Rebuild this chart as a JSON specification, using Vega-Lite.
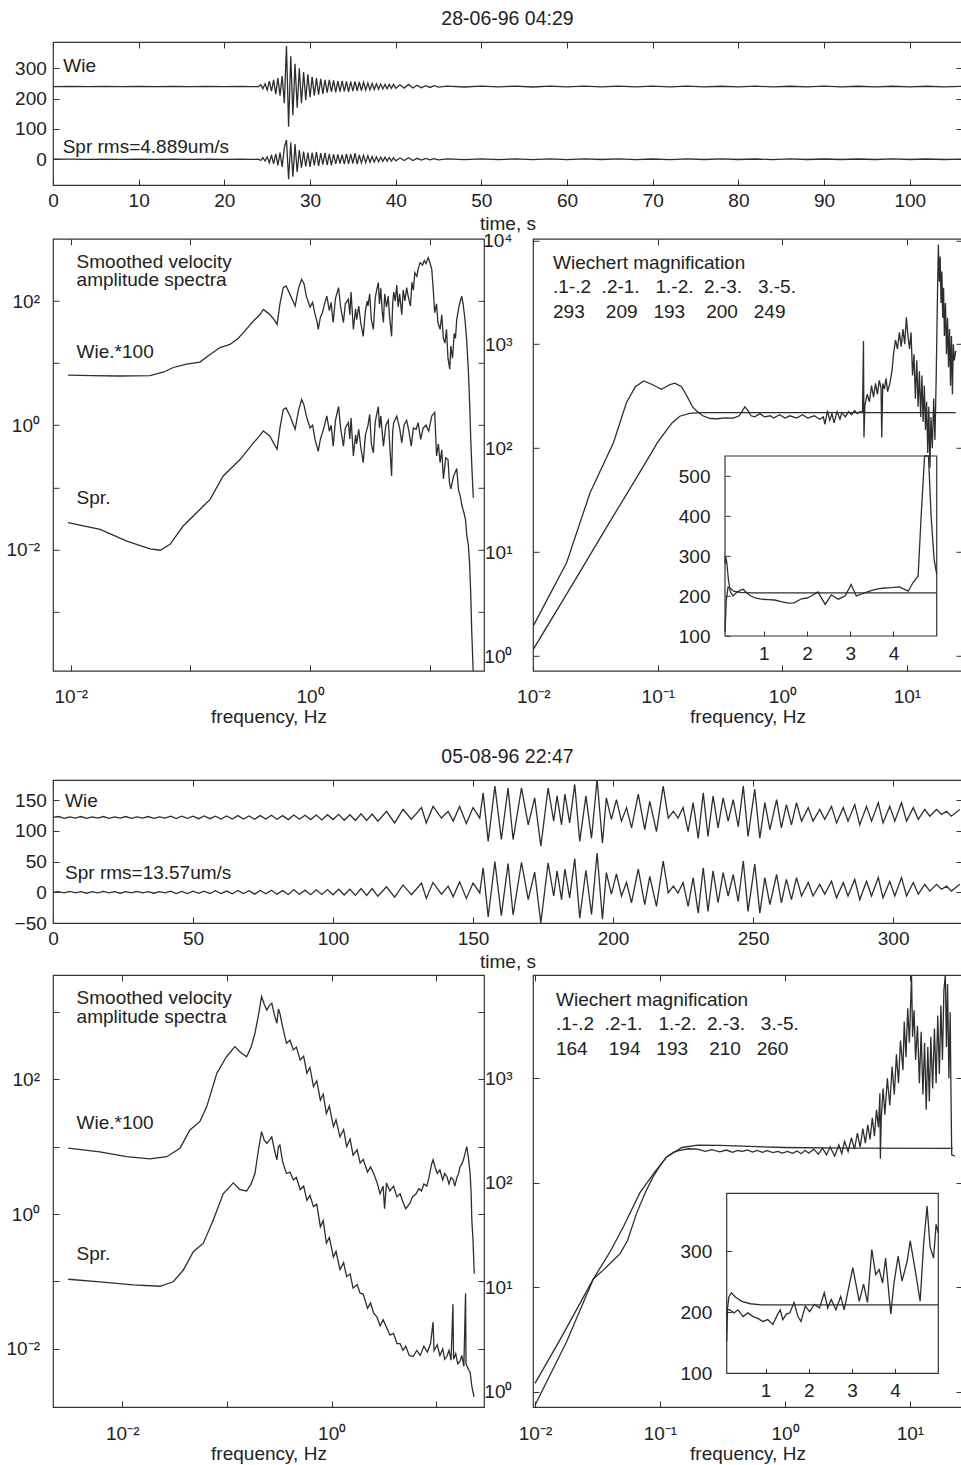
{
"$schema": "https://vega.github.io/schema/vega-lite/v6.json",
"background": "white",
"padding": {"left": 5, "top": 8, "right": 0, "bottom": 4},
"config": {
 "font": "Liberation Sans",
 "view": {"stroke": "#333", "strokeWidth": 1.2},
 "axis": {"labelFont": "Liberation Sans", "labelFontSize": 19, "labelColor": "#222", "tickColor": "#333", "tickWidth": 1, "tickSize": -6, "domain": false, "grid": false, "labelFlush": false, "labelOverlap": false, "titleFont": "Liberation Sans", "titleFontSize": 19, "titleFontWeight": "normal", "titleColor": "#222"},
 "title": {"font": "Liberation Sans", "fontSize": 19.5, "fontWeight": "normal", "color": "#222", "anchor": "middle"},
 "text": {"font": "Liberation Sans", "fontSize": 19, "color": "#222"},
 "line": {"color": "#2e2e2e", "strokeWidth": 1.3}
},
"datasets": {
"ts1": [
{"t":0,"w":240,"s":0},{"t":2,"w":240.6,"s":0.4},{"t":4,"w":239.5,"s":-0.3},{"t":6,"w":240.4,"s":0.3},{"t":8,"w":239.6,"s":-0.4},{"t":10,"w":240.5,"s":0.3},{"t":12,"w":239.4,"s":-0.3},{"t":14,"w":240.6,"s":0.4},{"t":16,"w":239.5,"s":-0.3},{"t":18,"w":240.4,"s":0.3},{"t":20,"w":239.6,"s":-0.4},{"t":22,"w":240.5,"s":0.4},{"t":23,"w":239.5,"s":-0.3},
{"t":24,"w":240,"s":0},{"t":24.25,"w":246,"s":-4},{"t":24.5,"w":233,"s":5},{"t":24.75,"w":249,"s":-6},{"t":25,"w":228,"s":8},{"t":25.25,"w":258,"s":-12},{"t":25.5,"w":225,"s":14},{"t":25.75,"w":262,"s":-15},{"t":26,"w":215,"s":18},{"t":26.25,"w":268,"s":-20},{"t":26.5,"w":210,"s":22},{"t":26.75,"w":275,"s":-25},{"t":27,"w":185,"s":38},{"t":27.25,"w":374,"s":64},{"t":27.5,"w":107,"s":-66},{"t":27.75,"w":340,"s":55},{"t":28,"w":145,"s":-58},{"t":28.25,"w":315,"s":50},{"t":28.5,"w":170,"s":-42},{"t":28.75,"w":300,"s":30},{"t":29,"w":185,"s":-28},{"t":29.25,"w":288,"s":25},{"t":29.5,"w":195,"s":-24},{"t":29.75,"w":280,"s":22},{"t":30,"w":205,"s":-25},{"t":30.25,"w":272,"s":22},{"t":30.5,"w":210,"s":-20},{"t":30.75,"w":268,"s":24},{"t":31,"w":213,"s":-22},{"t":31.25,"w":265,"s":20},{"t":31.5,"w":216,"s":-18},{"t":31.75,"w":262,"s":21},{"t":32,"w":220,"s":-19},{"t":32.25,"w":262,"s":18},{"t":32.5,"w":222,"s":-20},{"t":32.75,"w":260,"s":17},{"t":33,"w":221,"s":-15},{"t":33.25,"w":258,"s":16},{"t":33.5,"w":223,"s":-14},{"t":33.75,"w":259,"s":15},{"t":34,"w":224,"s":-16},{"t":34.25,"w":257,"s":18},{"t":34.5,"w":222,"s":-15},{"t":34.75,"w":256,"s":17},{"t":35,"w":225,"s":-14},{"t":35.25,"w":257,"s":20},{"t":35.5,"w":226,"s":-16},{"t":35.75,"w":255,"s":14},{"t":36,"w":227,"s":-12},{"t":36.25,"w":254,"s":13},{"t":36.5,"w":228,"s":-11},{"t":36.75,"w":252,"s":12},{"t":37,"w":229,"s":-10},{"t":37.25,"w":250,"s":9},{"t":37.5,"w":230,"s":-9},{"t":37.75,"w":249,"s":8},{"t":38,"w":231,"s":-8},{"t":38.25,"w":248,"s":7},{"t":38.5,"w":232,"s":-7},{"t":38.75,"w":247,"s":7},{"t":39,"w":233,"s":-6},{"t":39.25,"w":248,"s":6},{"t":39.5,"w":234,"s":-6},{"t":39.75,"w":247,"s":5},{"t":40,"w":234,"s":-5},{"t":40.5,"w":246,"s":4},{"t":41,"w":235,"s":-4},{"t":41.5,"w":247,"s":5},{"t":42,"w":235,"s":-4},{"t":42.5,"w":244,"s":3},{"t":43,"w":236,"s":-3},{"t":43.5,"w":243,"s":3},{"t":44,"w":237,"s":-2},{"t":44.5,"w":243,"s":2},{"t":45,"w":238,"s":-2},
{"t":46,"w":241.5,"s":1},{"t":48,"w":238.5,"s":-1},{"t":50,"w":241.5,"s":1.2},{"t":52,"w":238.6,"s":-1},{"t":54,"w":241.3,"s":1},{"t":56,"w":238.5,"s":-1.1},{"t":58,"w":241.4,"s":0.9},{"t":60,"w":238.7,"s":-1},{"t":62,"w":241.2,"s":1},{"t":64,"w":238.6,"s":-0.9},{"t":66,"w":241.3,"s":1},{"t":68,"w":238.8,"s":-1},{"t":70,"w":241.1,"s":0.8},{"t":72,"w":238.7,"s":-1},{"t":74,"w":241.2,"s":0.9},{"t":76,"w":238.8,"s":-0.8},{"t":78,"w":241,"s":1},{"t":80,"w":238.9,"s":-0.9},{"t":82,"w":241.2,"s":0.8},{"t":84,"w":238.8,"s":-1},{"t":86,"w":241,"s":0.9},{"t":88,"w":239,"s":-0.8},{"t":90,"w":241.1,"s":0.8},{"t":92,"w":238.9,"s":-0.9},{"t":94,"w":241,"s":0.8},{"t":96,"w":239,"s":-0.8},{"t":98,"w":241,"s":0.9},{"t":100,"w":239,"s":-0.8},{"t":102,"w":241,"s":0.8},{"t":104,"w":239,"s":-0.8},{"t":106,"w":240.5,"s":0.5}
],
"ts2": [
{"t":0,"w":122,"s":0},{"t":2,"w":123.5,"s":1},{"t":4,"w":120.5,"s":-1},{"t":6,"w":123,"s":1.5},{"t":8,"w":121,"s":-1},{"t":10,"w":123.5,"s":1},{"t":12,"w":120.5,"s":-1.5},{"t":14,"w":123,"s":1},{"t":16,"w":121,"s":-1},{"t":18,"w":123.5,"s":1.5},{"t":20,"w":120.5,"s":-1},{"t":22,"w":123,"s":1},{"t":24,"w":121,"s":-1.5},{"t":26,"w":123.5,"s":1},{"t":28,"w":120.5,"s":-1},{"t":30,"w":123,"s":1.5},{"t":32,"w":121,"s":-1},{"t":34,"w":123.5,"s":1},{"t":36,"w":120.5,"s":-1.5},{"t":38,"w":123,"s":1},{"t":40,"w":121,"s":-1},{"t":42,"w":124,"s":2},{"t":44,"w":120,"s":-2},{"t":46,"w":124,"s":1.5},{"t":48,"w":120.5,"s":-2},{"t":50,"w":124,"s":2},{"t":52,"w":120,"s":-1.5},{"t":54,"w":124.5,"s":2},{"t":56,"w":120,"s":-2},{"t":58,"w":124,"s":2.5},{"t":60,"w":119.5,"s":-2},{"t":62,"w":124.5,"s":2},{"t":64,"w":119.5,"s":-2.5},{"t":66,"w":125,"s":3},{"t":68,"w":119.5,"s":-2},{"t":70,"w":124.5,"s":2.5},{"t":72,"w":119,"s":-3},{"t":74,"w":125,"s":3},{"t":76,"w":119.5,"s":-2.5},{"t":78,"w":125.5,"s":3.5},{"t":80,"w":119,"s":-3},{"t":82,"w":125,"s":3},{"t":84,"w":118.5,"s":-3.5},{"t":86,"w":126,"s":4},{"t":88,"w":119,"s":-3},{"t":90,"w":125.5,"s":3.5},{"t":92,"w":118.5,"s":-4},{"t":94,"w":126,"s":4},{"t":96,"w":118,"s":-3.5},{"t":98,"w":126.5,"s":4.5},{"t":100,"w":118.5,"s":-4},{"t":102,"w":127,"s":5},{"t":104,"w":117.5,"s":-4.5},{"t":106,"w":126.5,"s":5},{"t":108,"w":117,"s":-5},{"t":110,"w":128,"s":6},{"t":112,"w":117,"s":-5},{"t":114,"w":127.5,"s":6},{"t":116,"w":116,"s":-6.5},
{"t":119.1,"w":132,"s":9},{"t":122,"w":113,"s":-8},{"t":125,"w":135,"s":12},{"t":128,"w":119,"s":-4},{"t":131.6,"w":138,"s":15},{"t":133.3,"w":113,"s":-10},{"t":135.7,"w":140,"s":16},{"t":138.7,"w":121,"s":-3},{"t":141.1,"w":132,"s":10},{"t":142.9,"w":116,"s":-7},{"t":145.2,"w":140,"s":17},{"t":147.6,"w":112,"s":-10},{"t":150,"w":138,"s":15},
{"t":152.4,"w":121,"s":-1},{"t":153.6,"w":162,"s":40},{"t":155.4,"w":83,"s":-40},{"t":157.8,"w":173,"s":50},{"t":160.1,"w":86,"s":-38},{"t":162.5,"w":170,"s":47},{"t":164.3,"w":86,"s":-37},{"t":167.3,"w":170,"s":49},{"t":169.7,"w":110,"s":-12},{"t":172,"w":154,"s":33},{"t":174.2,"w":75,"s":-50},{"t":176.8,"w":170,"s":48},{"t":178.8,"w":116,"s":-6},{"t":180,"w":157,"s":35},{"t":181.6,"w":110,"s":-12},{"t":182.8,"w":160,"s":38},{"t":184.5,"w":113,"s":-9},{"t":186.3,"w":176,"s":55},{"t":188.1,"w":83,"s":-42},{"t":190.3,"w":157,"s":36},{"t":192.3,"w":88,"s":-36},{"t":194.3,"w":184,"s":64},{"t":196.2,"w":80,"s":-44},{"t":197.6,"w":154,"s":32},{"t":199.4,"w":119,"s":-3},{"t":201.2,"w":151,"s":30},{"t":203,"w":116,"s":-6},{"t":204.8,"w":138,"s":16},{"t":206.6,"w":105,"s":-17},{"t":209,"w":160,"s":38},{"t":211.3,"w":102,"s":-20},{"t":213.1,"w":148,"s":26},{"t":215.5,"w":99,"s":-23},{"t":217.9,"w":173,"s":51},{"t":219.7,"w":121,"s":-1},{"t":221.5,"w":132,"s":10},{"t":223.2,"w":121,"s":-1},{"t":225,"w":138,"s":16},{"t":226.8,"w":99,"s":-23},{"t":228.6,"w":146,"s":24},{"t":230.4,"w":88,"s":-34},{"t":232.2,"w":162,"s":40},{"t":233.9,"w":91,"s":-31},{"t":235.7,"w":157,"s":35},{"t":237.5,"w":105,"s":-17},{"t":239.3,"w":154,"s":32},{"t":241.1,"w":116,"s":-6},{"t":242.9,"w":151,"s":29},{"t":244.7,"w":107,"s":-15},{"t":246.5,"w":173,"s":51},{"t":248.2,"w":91,"s":-31},{"t":250.6,"w":168,"s":46},{"t":252.4,"w":88,"s":-34},{"t":254.2,"w":146,"s":24},{"t":256,"w":102,"s":-20},{"t":258.4,"w":151,"s":29},{"t":260.1,"w":105,"s":-17},{"t":261.9,"w":143,"s":21},{"t":263.7,"w":110,"s":-12},{"t":265.5,"w":146,"s":24},{"t":267.3,"w":116,"s":-6},{"t":269.7,"w":138,"s":16},{"t":271.4,"w":116,"s":-6},{"t":273.8,"w":135,"s":13},{"t":275.6,"w":119,"s":-3},{"t":278,"w":140,"s":18},{"t":279.8,"w":113,"s":-9},{"t":282.2,"w":138,"s":16},{"t":283.9,"w":116,"s":-6},{"t":286.3,"w":143,"s":21},{"t":288.1,"w":110,"s":-12},{"t":290.5,"w":140,"s":18},{"t":292.3,"w":116,"s":-6},{"t":294.7,"w":146,"s":24},{"t":296.4,"w":113,"s":-9},{"t":298.8,"w":140,"s":18},{"t":300.6,"w":116,"s":-6},{"t":303,"w":146,"s":24},{"t":304.8,"w":116,"s":-6},{"t":307.2,"w":138,"s":16},{"t":309,"w":119,"s":-3},{"t":311.3,"w":135,"s":13},{"t":313.1,"w":124,"s":2},{"t":315.5,"w":135,"s":13},{"t":317.3,"w":127,"s":5},{"t":319.1,"w":132,"s":10},{"t":320.8,"w":124,"s":2},{"t":323.8,"w":135,"s":13}
],
"sp1": [
{"s":"w","f":0.0095,"a":6.4},{"s":"w","f":0.015,"a":6.3},{"s":"w","f":0.025,"a":6.2},{"s":"w","f":0.046,"a":6.3},{"s":"w","f":0.06,"a":7.2},{"s":"w","f":0.072,"a":8.5},{"s":"w","f":0.093,"a":9.6},{"s":"w","f":0.12,"a":10.4},{"s":"w","f":0.146,"a":13.8},{"s":"w","f":0.177,"a":17.8},{"s":"w","f":0.214,"a":20},{"s":"w","f":0.25,"a":25},{"s":"w","f":0.277,"a":31},{"s":"w","f":0.336,"a":47.7},{"s":"w","f":0.38,"a":60},{"s":"w","f":0.407,"a":73},{"s":"w","f":0.44,"a":65},{"s":"w","f":0.46,"a":61},{"s":"w","f":0.5,"a":50},{"s":"w","f":0.53,"a":42},{"s":"w","f":0.56,"a":90},{"s":"w","f":0.597,"a":164},{"s":"w","f":0.63,"a":175},{"s":"w","f":0.68,"a":128},{"s":"w","f":0.72,"a":100},{"s":"w","f":0.75,"a":83},{"s":"w","f":0.8,"a":160},{"s":"w","f":0.85,"a":224},{"s":"w","f":0.89,"a":190},{"s":"w","f":0.93,"a":120},{"s":"w","f":1.0,"a":80},{"s":"w","f":1.05,"a":95},{"s":"w","f":1.1,"a":61},{"s":"w","f":1.14,"a":48},{"s":"w","f":1.17,"a":35},{"s":"w","f":1.22,"a":55},{"s":"w","f":1.27,"a":65},{"s":"w","f":1.32,"a":90},{"s":"w","f":1.38,"a":120},{"s":"w","f":1.45,"a":70},{"s":"w","f":1.5,"a":95},{"s":"w","f":1.56,"a":45},{"s":"w","f":1.63,"a":110},{"s":"w","f":1.73,"a":164},{"s":"w","f":1.8,"a":80},{"s":"w","f":1.9,"a":45},{"s":"w","f":1.97,"a":90},{"s":"w","f":2.09,"a":106},{"s":"w","f":2.15,"a":60},{"s":"w","f":2.2,"a":140},{"s":"w","f":2.3,"a":35},{"s":"w","f":2.4,"a":75},{"s":"w","f":2.45,"a":50},{"s":"w","f":2.55,"a":83},{"s":"w","f":2.65,"a":45},{"s":"w","f":2.78,"a":27},{"s":"w","f":2.9,"a":70},{"s":"w","f":3.0,"a":100},{"s":"w","f":3.05,"a":83},{"s":"w","f":3.15,"a":130},{"s":"w","f":3.25,"a":50},{"s":"w","f":3.38,"a":35},{"s":"w","f":3.5,"a":110},{"s":"w","f":3.6,"a":150},{"s":"w","f":3.72,"a":198},{"s":"w","f":3.8,"a":90},{"s":"w","f":3.9,"a":160},{"s":"w","f":4.0,"a":70},{"s":"w","f":4.1,"a":45},{"s":"w","f":4.2,"a":130},{"s":"w","f":4.35,"a":80},{"s":"w","f":4.5,"a":120},{"s":"w","f":4.6,"a":60},{"s":"w","f":4.8,"a":27},{"s":"w","f":4.9,"a":90},{"s":"w","f":5.0,"a":140},{"s":"w","f":5.15,"a":100},{"s":"w","f":5.3,"a":180},{"s":"w","f":5.45,"a":80},{"s":"w","f":5.6,"a":130},{"s":"w","f":5.84,"a":60},{"s":"w","f":6.0,"a":150},{"s":"w","f":6.2,"a":100},{"s":"w","f":6.41,"a":164},{"s":"w","f":6.6,"a":120},{"s":"w","f":6.9,"a":83},{"s":"w","f":7.1,"a":200},{"s":"w","f":7.3,"a":150},{"s":"w","f":7.5,"a":286},{"s":"w","f":7.8,"a":250},{"s":"w","f":8.0,"a":330},{"s":"w","f":8.3,"a":415},{"s":"w","f":8.7,"a":380},{"s":"w","f":9.0,"a":450},{"s":"w","f":9.3,"a":400},{"s":"w","f":9.7,"a":500},{"s":"w","f":10.0,"a":420},{"s":"w","f":10.4,"a":323},{"s":"w","f":10.7,"a":150},{"s":"w","f":11.0,"a":65},{"s":"w","f":11.4,"a":90},{"s":"w","f":11.7,"a":45},{"s":"w","f":12.2,"a":35},{"s":"w","f":12.6,"a":60},{"s":"w","f":13.0,"a":25},{"s":"w","f":13.4,"a":21},{"s":"w","f":13.8,"a":35},{"s":"w","f":14.2,"a":12},{"s":"w","f":14.7,"a":8},{"s":"w","f":15.0,"a":18.8},{"s":"w","f":15.5,"a":12},{"s":"w","f":16.0,"a":30},{"s":"w","f":16.4,"a":25},{"s":"w","f":16.8,"a":50},{"s":"w","f":17.5,"a":80},{"s":"w","f":18.0,"a":100},{"s":"w","f":18.5,"a":120},{"s":"w","f":19.0,"a":90},{"s":"w","f":19.7,"a":50},{"s":"w","f":20.3,"a":25},{"s":"w","f":21.0,"a":8},{"s":"w","f":21.6,"a":2},{"s":"w","f":22.0,"a":0.6},{"s":"w","f":22.4,"a":0.25},{"s":"w","f":23.1,"a":0.068},
{"s":"s","f":0.0095,"a":0.027},{"s":"s","f":0.0176,"a":0.021},{"s":"s","f":0.0294,"a":0.0136},{"s":"s","f":0.046,"a":0.0102},{"s":"s","f":0.056,"a":0.0097},{"s":"s","f":0.0676,"a":0.0121},{"s":"s","f":0.087,"a":0.0238},{"s":"s","f":0.12,"a":0.044},{"s":"s","f":0.146,"a":0.064},{"s":"s","f":0.188,"a":0.152},{"s":"s","f":0.26,"a":0.28},{"s":"s","f":0.336,"a":0.52},{"s":"s","f":0.38,"a":0.68},{"s":"s","f":0.407,"a":0.81},{"s":"s","f":0.46,"a":0.67},{"s":"s","f":0.53,"a":0.41},{"s":"s","f":0.56,"a":0.9},{"s":"s","f":0.597,"a":1.8},{"s":"s","f":0.63,"a":1.9},{"s":"s","f":0.68,"a":1.41},{"s":"s","f":0.75,"a":0.86},{"s":"s","f":0.8,"a":1.7},{"s":"s","f":0.85,"a":2.6},{"s":"s","f":0.89,"a":2.1},{"s":"s","f":0.93,"a":1.41},{"s":"s","f":1.0,"a":0.9},{"s":"s","f":1.05,"a":1.0},{"s":"s","f":1.1,"a":0.59},{"s":"s","f":1.17,"a":0.38},{"s":"s","f":1.22,"a":0.6},{"s":"s","f":1.27,"a":0.76},{"s":"s","f":1.32,"a":1.0},{"s":"s","f":1.38,"a":1.41},{"s":"s","f":1.45,"a":0.8},{"s":"s","f":1.5,"a":1.0},{"s":"s","f":1.56,"a":0.46},{"s":"s","f":1.63,"a":1.2},{"s":"s","f":1.73,"a":2.0},{"s":"s","f":1.8,"a":0.9},{"s":"s","f":1.9,"a":0.46},{"s":"s","f":1.97,"a":0.9},{"s":"s","f":2.09,"a":1.1},{"s":"s","f":2.15,"a":0.6},{"s":"s","f":2.2,"a":1.3},{"s":"s","f":2.3,"a":0.32},{"s":"s","f":2.4,"a":0.7},{"s":"s","f":2.45,"a":0.5},{"s":"s","f":2.55,"a":0.86},{"s":"s","f":2.65,"a":0.45},{"s":"s","f":2.78,"a":0.25},{"s":"s","f":2.9,"a":0.7},{"s":"s","f":3.05,"a":1.0},{"s":"s","f":3.15,"a":1.5},{"s":"s","f":3.25,"a":0.5},{"s":"s","f":3.38,"a":0.36},{"s":"s","f":3.5,"a":1.1},{"s":"s","f":3.6,"a":1.5},{"s":"s","f":3.72,"a":2.0},{"s":"s","f":3.8,"a":0.9},{"s":"s","f":3.9,"a":1.4},{"s":"s","f":4.1,"a":0.46},{"s":"s","f":4.3,"a":1.0},{"s":"s","f":4.5,"a":1.2},{"s":"s","f":4.8,"a":0.152},{"s":"s","f":4.9,"a":0.8},{"s":"s","f":5.0,"a":1.1},{"s":"s","f":5.3,"a":1.4},{"s":"s","f":5.6,"a":0.9},{"s":"s","f":5.84,"a":0.52},{"s":"s","f":6.1,"a":1.0},{"s":"s","f":6.41,"a":1.2},{"s":"s","f":6.7,"a":0.8},{"s":"s","f":7.0,"a":0.46},{"s":"s","f":7.3,"a":0.9},{"s":"s","f":7.7,"a":0.86},{"s":"s","f":8.0,"a":1.1},{"s":"s","f":8.4,"a":0.59},{"s":"s","f":8.8,"a":0.9},{"s":"s","f":9.3,"a":1.0},{"s":"s","f":9.8,"a":0.8},{"s":"s","f":10.4,"a":1.41},{"s":"s","f":11.0,"a":1.6},{"s":"s","f":11.4,"a":0.32},{"s":"s","f":11.8,"a":0.5},{"s":"s","f":12.2,"a":0.25},{"s":"s","f":12.6,"a":0.4},{"s":"s","f":13.0,"a":0.137},{"s":"s","f":13.6,"a":0.3},{"s":"s","f":14.2,"a":0.28},{"s":"s","f":14.6,"a":0.12},{"s":"s","f":15.0,"a":0.094},{"s":"s","f":15.8,"a":0.15},{"s":"s","f":16.8,"a":0.2},{"s":"s","f":17.4,"a":0.09},{"s":"s","f":18.0,"a":0.072},{"s":"s","f":18.6,"a":0.05},{"s":"s","f":19.3,"a":0.039},{"s":"s","f":19.9,"a":0.03},{"s":"s","f":20.4,"a":0.0167},{"s":"s","f":21.0,"a":0.012},{"s":"s","f":21.5,"a":0.0061},{"s":"s","f":22.0,"a":0.002},{"s":"s","f":22.4,"a":0.00052},{"s":"s","f":22.8,"a":0.0002},{"s":"s","f":23.1,"a":0.0001}
],
"sp2": [
{"s":"w","f":0.00305,"a":9.5},{"s":"w","f":0.0061,"a":8.4},{"s":"w","f":0.011,"a":7.1},{"s":"w","f":0.0184,"a":6.6},{"s":"w","f":0.0266,"a":7.1},{"s":"w","f":0.0356,"a":9.5},{"s":"w","f":0.0443,"a":17.7},{"s":"w","f":0.055,"a":23.5},{"s":"w","f":0.064,"a":39},{"s":"w","f":0.08,"a":123},{"s":"w","f":0.099,"a":216},{"s":"w","f":0.119,"a":305},{"s":"w","f":0.135,"a":250},{"s":"w","f":0.154,"a":216},{"s":"w","f":0.17,"a":300},{"s":"w","f":0.185,"a":481},{"s":"w","f":0.2,"a":900},{"s":"w","f":0.214,"a":1680},{"s":"w","f":0.227,"a":1300},{"s":"w","f":0.24,"a":1067},{"s":"w","f":0.255,"a":1250},{"s":"w","f":0.268,"a":1343},{"s":"w","f":0.284,"a":900},{"s":"w","f":0.3,"a":677},{"s":"w","f":0.31,"a":1100},{"s":"w","f":0.32,"a":955},{"s":"w","f":0.34,"a":600},{"s":"w","f":0.37,"a":342},{"s":"w","f":0.4,"a":380},{"s":"w","f":0.43,"a":273},{"s":"w","f":0.46,"a":300},{"s":"w","f":0.5,"a":193},{"s":"w","f":0.54,"a":220},{"s":"w","f":0.58,"a":123},{"s":"w","f":0.62,"a":150},{"s":"w","f":0.67,"a":78},{"s":"w","f":0.72,"a":95},{"s":"w","f":0.78,"a":49},{"s":"w","f":0.83,"a":60},{"s":"w","f":0.89,"a":31},{"s":"w","f":0.95,"a":40},{"s":"w","f":1.04,"a":19.8},{"s":"w","f":1.1,"a":25},{"s":"w","f":1.2,"a":14},{"s":"w","f":1.3,"a":18},{"s":"w","f":1.39,"a":10},{"s":"w","f":1.5,"a":13},{"s":"w","f":1.6,"a":7.5},{"s":"w","f":1.75,"a":9},{"s":"w","f":1.87,"a":5.7},{"s":"w","f":2.0,"a":6.5},{"s":"w","f":2.2,"a":4.2},{"s":"w","f":2.35,"a":5},{"s":"w","f":2.52,"a":4.0},{"s":"w","f":2.7,"a":3.0},{"s":"w","f":2.9,"a":2.0},{"s":"w","f":3.1,"a":2.6},{"s":"w","f":3.2,"a":1.2},{"s":"w","f":3.34,"a":2.9},{"s":"w","f":3.6,"a":2.2},{"s":"w","f":3.9,"a":2.6},{"s":"w","f":4.2,"a":1.8},{"s":"w","f":4.5,"a":2.0},{"s":"w","f":4.8,"a":1.5},{"s":"w","f":5.1,"a":1.2},{"s":"w","f":5.6,"a":1.45},{"s":"w","f":5.9,"a":1.8},{"s":"w","f":6.4,"a":2.0},{"s":"w","f":6.8,"a":2.4},{"s":"w","f":7.2,"a":2.2},{"s":"w","f":7.6,"a":2.8},{"s":"w","f":8.1,"a":2.6},{"s":"w","f":8.5,"a":3.5},{"s":"w","f":9.0,"a":5.5},{"s":"w","f":9.3,"a":6.4},{"s":"w","f":9.7,"a":5.0},{"s":"w","f":10.2,"a":4.0},{"s":"w","f":10.8,"a":4.5},{"s":"w","f":11.5,"a":3.2},{"s":"w","f":12.0,"a":4.0},{"s":"w","f":12.6,"a":3.6},{"s":"w","f":13.2,"a":2.8},{"s":"w","f":13.8,"a":3.5},{"s":"w","f":14.4,"a":3.3},{"s":"w","f":15.0,"a":2.6},{"s":"w","f":15.7,"a":3.5},{"s":"w","f":16.3,"a":4.0},{"s":"w","f":16.8,"a":5.0},{"s":"w","f":17.5,"a":5.5},{"s":"w","f":18.2,"a":6.5},{"s":"w","f":19.0,"a":8.5},{"s":"w","f":19.5,"a":10},{"s":"w","f":20.2,"a":7.0},{"s":"w","f":21.0,"a":4.0},{"s":"w","f":21.5,"a":2.0},{"s":"w","f":21.8,"a":0.82},{"s":"w","f":22.4,"a":0.4},{"s":"w","f":23.0,"a":0.13},
{"s":"s","f":0.00305,"a":0.108},{"s":"s","f":0.0061,"a":0.099},{"s":"s","f":0.0127,"a":0.089},{"s":"s","f":0.0229,"a":0.085},{"s":"s","f":0.0307,"a":0.099},{"s":"s","f":0.0383,"a":0.148},{"s":"s","f":0.0477,"a":0.277},{"s":"s","f":0.0595,"a":0.37},{"s":"s","f":0.074,"a":0.82},{"s":"s","f":0.092,"a":2.0},{"s":"s","f":0.115,"a":2.9},{"s":"s","f":0.133,"a":2.3},{"s":"s","f":0.154,"a":2.2},{"s":"s","f":0.17,"a":2.8},{"s":"s","f":0.185,"a":4.0},{"s":"s","f":0.2,"a":9},{"s":"s","f":0.214,"a":16.7},{"s":"s","f":0.227,"a":12.5},{"s":"s","f":0.24,"a":11.2},{"s":"s","f":0.255,"a":12.5},{"s":"s","f":0.268,"a":14},{"s":"s","f":0.284,"a":9},{"s":"s","f":0.3,"a":6.4},{"s":"s","f":0.31,"a":10},{"s":"s","f":0.32,"a":10.6},{"s":"s","f":0.34,"a":6},{"s":"s","f":0.37,"a":4.0},{"s":"s","f":0.4,"a":4.2},{"s":"s","f":0.43,"a":3.2},{"s":"s","f":0.46,"a":3.5},{"s":"s","f":0.5,"a":2.3},{"s":"s","f":0.54,"a":2.6},{"s":"s","f":0.58,"a":1.6},{"s":"s","f":0.62,"a":1.9},{"s":"s","f":0.67,"a":1.29},{"s":"s","f":0.72,"a":1.4},{"s":"s","f":0.78,"a":0.65},{"s":"s","f":0.83,"a":0.8},{"s":"s","f":0.89,"a":0.37},{"s":"s","f":0.95,"a":0.45},{"s":"s","f":1.04,"a":0.23},{"s":"s","f":1.1,"a":0.28},{"s":"s","f":1.2,"a":0.15},{"s":"s","f":1.3,"a":0.19},{"s":"s","f":1.39,"a":0.118},{"s":"s","f":1.5,"a":0.13},{"s":"s","f":1.6,"a":0.08},{"s":"s","f":1.75,"a":0.09},{"s":"s","f":1.87,"a":0.067},{"s":"s","f":2.0,"a":0.065},{"s":"s","f":2.2,"a":0.04},{"s":"s","f":2.35,"a":0.048},{"s":"s","f":2.52,"a":0.034},{"s":"s","f":2.7,"a":0.03},{"s":"s","f":2.9,"a":0.022},{"s":"s","f":3.1,"a":0.027},{"s":"s","f":3.34,"a":0.021},{"s":"s","f":3.6,"a":0.016},{"s":"s","f":3.9,"a":0.017},{"s":"s","f":4.2,"a":0.012},{"s":"s","f":4.5,"a":0.012},{"s":"s","f":4.8,"a":0.0095},{"s":"s","f":5.1,"a":0.011},{"s":"s","f":5.5,"a":0.008},{"s":"s","f":6.0,"a":0.0077},{"s":"s","f":6.5,"a":0.0095},{"s":"s","f":7.0,"a":0.008},{"s":"s","f":7.6,"a":0.011},{"s":"s","f":8.2,"a":0.009},{"s":"s","f":8.8,"a":0.012},{"s":"s","f":9.3,"a":0.025},{"s":"s","f":9.5,"a":0.0094},{"s":"s","f":10.2,"a":0.0115},{"s":"s","f":10.8,"a":0.008},{"s":"s","f":11.5,"a":0.01},{"s":"s","f":12.0,"a":0.007},{"s":"s","f":12.6,"a":0.0077},{"s":"s","f":13.2,"a":0.0095},{"s":"s","f":13.8,"a":0.0068},{"s":"s","f":14.4,"a":0.046},{"s":"s","f":14.6,"a":0.007},{"s":"s","f":15.3,"a":0.0085},{"s":"s","f":16.0,"a":0.006},{"s":"s","f":16.8,"a":0.0065},{"s":"s","f":17.5,"a":0.008},{"s":"s","f":18.3,"a":0.0055},{"s":"s","f":19.0,"a":0.067},{"s":"s","f":19.2,"a":0.006},{"s":"s","f":20.3,"a":0.0049},{"s":"s","f":21.0,"a":0.0045},{"s":"s","f":21.8,"a":0.0028},{"s":"s","f":22.9,"a":0.00195}
],
"mag1": [
{"s":"m","f":0.01,"m":1.95},{"s":"m","f":0.0185,"m":7.9},{"s":"m","f":0.0285,"m":37},{"s":"m","f":0.044,"m":113},{"s":"m","f":0.056,"m":275},{"s":"m","f":0.066,"m":390},{"s":"m","f":0.077,"m":443},{"s":"m","f":0.09,"m":410},{"s":"m","f":0.107,"m":369},{"s":"m","f":0.125,"m":410},{"s":"m","f":0.137,"m":422},{"s":"m","f":0.155,"m":390},{"s":"m","f":0.171,"m":318},{"s":"m","f":0.19,"m":250},{"s":"m","f":0.205,"m":228},{"s":"m","f":0.23,"m":205},{"s":"m","f":0.263,"m":193},{"s":"m","f":0.3,"m":192},{"s":"m","f":0.35,"m":196},{"s":"m","f":0.404,"m":195},{"s":"m","f":0.45,"m":205},{"s":"m","f":0.5,"m":250},{"s":"m","f":0.53,"m":230},{"s":"m","f":0.56,"m":205},{"s":"m","f":0.6,"m":200},{"s":"m","f":0.66,"m":215},{"s":"m","f":0.72,"m":200},{"s":"m","f":0.8,"m":205},{"s":"m","f":0.85,"m":195},{"s":"m","f":0.95,"m":210},{"s":"m","f":1.05,"m":195},{"s":"m","f":1.15,"m":205},{"s":"m","f":1.3,"m":195},{"s":"m","f":1.45,"m":210},{"s":"m","f":1.6,"m":195},{"s":"m","f":1.8,"m":205},{"s":"m","f":2.0,"m":190},{"s":"m","f":2.13,"m":200},{"s":"m","f":2.2,"m":170},{"s":"m","f":2.3,"m":230},{"s":"m","f":2.4,"m":185},{"s":"m","f":2.5,"m":215},{"s":"m","f":2.6,"m":175},{"s":"m","f":2.75,"m":225},{"s":"m","f":2.9,"m":190},{"s":"m","f":3.0,"m":220},{"s":"m","f":3.2,"m":200},{"s":"m","f":3.4,"m":225},{"s":"m","f":3.6,"m":210},{"s":"m","f":3.8,"m":230},{"s":"m","f":4.0,"m":215},{"s":"m","f":4.2,"m":225},{"s":"m","f":4.4,"m":220},{"s":"m","f":4.48,"m":1075},{"s":"m","f":4.52,"m":127},{"s":"m","f":4.6,"m":260},{"s":"m","f":4.8,"m":330},{"s":"m","f":5.0,"m":280},{"s":"m","f":5.2,"m":400},{"s":"m","f":5.4,"m":310},{"s":"m","f":5.6,"m":420},{"s":"m","f":5.8,"m":330},{"s":"m","f":6.0,"m":450},{"s":"m","f":6.2,"m":380},{"s":"m","f":6.28,"m":127},{"s":"m","f":6.4,"m":420},{"s":"m","f":6.6,"m":370},{"s":"m","f":6.8,"m":470},{"s":"m","f":7.0,"m":350},{"s":"m","f":7.3,"m":420},{"s":"m","f":7.6,"m":560},{"s":"m","f":7.8,"m":800},{"s":"m","f":8.1,"m":1100},{"s":"m","f":8.4,"m":900},{"s":"m","f":8.7,"m":1300},{"s":"m","f":9.0,"m":950},{"s":"m","f":9.3,"m":1400},{"s":"m","f":9.6,"m":1000},{"s":"m","f":9.9,"m":1820},{"s":"m","f":10.2,"m":1200},{"s":"m","f":10.5,"m":900},{"s":"m","f":10.8,"m":1300},{"s":"m","f":11.1,"m":500},{"s":"m","f":11.4,"m":800},{"s":"m","f":11.7,"m":300},{"s":"m","f":12.0,"m":700},{"s":"m","f":12.3,"m":250},{"s":"m","f":12.6,"m":550},{"s":"m","f":12.9,"m":200},{"s":"m","f":13.2,"m":500},{"s":"m","f":13.5,"m":180},{"s":"m","f":13.8,"m":400},{"s":"m","f":14.1,"m":150},{"s":"m","f":14.4,"m":280},{"s":"m","f":14.7,"m":90},{"s":"m","f":15.0,"m":250},{"s":"m","f":15.3,"m":65},{"s":"m","f":15.6,"m":200},{"s":"m","f":16.0,"m":100},{"s":"m","f":16.4,"m":300},{"s":"m","f":16.8,"m":120},{"s":"m","f":17.2,"m":500},{"s":"m","f":17.6,"m":3000},{"s":"m","f":17.9,"m":9100},{"s":"m","f":18.2,"m":4000},{"s":"m","f":18.5,"m":7000},{"s":"m","f":18.8,"m":2500},{"s":"m","f":19.1,"m":5000},{"s":"m","f":19.4,"m":1800},{"s":"m","f":19.7,"m":3500},{"s":"m","f":20.0,"m":1200},{"s":"m","f":20.4,"m":2500},{"s":"m","f":20.8,"m":800},{"s":"m","f":21.2,"m":1800},{"s":"m","f":21.6,"m":600},{"s":"m","f":22.0,"m":1400},{"s":"m","f":22.4,"m":400},{"s":"m","f":22.8,"m":1200},{"s":"m","f":23.2,"m":330},{"s":"m","f":23.6,"m":1000},{"s":"m","f":24.0,"m":700},{"s":"m","f":24.7,"m":862},
{"s":"t","f":0.01,"m":1.16},{"s":"t","f":0.02,"m":4.6},{"s":"t","f":0.04,"m":18.5},{"s":"t","f":0.07,"m":56},{"s":"t","f":0.1,"m":115},{"s":"t","f":0.13,"m":175},{"s":"t","f":0.15,"m":203},{"s":"t","f":0.18,"m":216},{"s":"t","f":0.22,"m":220},{"s":"t","f":24.7,"m":220}
],
"mag2": [
{"s":"m","f":0.01,"m":1.2},{"s":"m","f":0.016,"m":3.2},{"s":"m","f":0.0229,"m":7.0},{"s":"m","f":0.0293,"m":12},{"s":"m","f":0.035,"m":14.5},{"s":"m","f":0.04,"m":17},{"s":"m","f":0.048,"m":21},{"s":"m","f":0.055,"m":28},{"s":"m","f":0.065,"m":51},{"s":"m","f":0.076,"m":80},{"s":"m","f":0.088,"m":114},{"s":"m","f":0.1,"m":145},{"s":"m","f":0.113,"m":177},{"s":"m","f":0.13,"m":198},{"s":"m","f":0.144,"m":205},{"s":"m","f":0.17,"m":212},{"s":"m","f":0.2,"m":210},{"s":"m","f":0.23,"m":200},{"s":"m","f":0.26,"m":208},{"s":"m","f":0.3,"m":198},{"s":"m","f":0.34,"m":206},{"s":"m","f":0.38,"m":196},{"s":"m","f":0.42,"m":204},{"s":"m","f":0.46,"m":200},{"s":"m","f":0.5,"m":207},{"s":"m","f":0.55,"m":197},{"s":"m","f":0.6,"m":204},{"s":"m","f":0.66,"m":196},{"s":"m","f":0.72,"m":203},{"s":"m","f":0.8,"m":195},{"s":"m","f":0.88,"m":200},{"s":"m","f":0.95,"m":193},{"s":"m","f":1.05,"m":200},{"s":"m","f":1.15,"m":192},{"s":"m","f":1.25,"m":202},{"s":"m","f":1.35,"m":190},{"s":"m","f":1.45,"m":205},{"s":"m","f":1.55,"m":192},{"s":"m","f":1.7,"m":210},{"s":"m","f":1.85,"m":188},{"s":"m","f":2.0,"m":215},{"s":"m","f":2.15,"m":185},{"s":"m","f":2.3,"m":220},{"s":"m","f":2.5,"m":180},{"s":"m","f":2.7,"m":230},{"s":"m","f":2.85,"m":190},{"s":"m","f":3.0,"m":250},{"s":"m","f":3.2,"m":200},{"s":"m","f":3.4,"m":270},{"s":"m","f":3.6,"m":210},{"s":"m","f":3.8,"m":300},{"s":"m","f":4.0,"m":220},{"s":"m","f":4.2,"m":330},{"s":"m","f":4.4,"m":240},{"s":"m","f":4.6,"m":360},{"s":"m","f":4.8,"m":260},{"s":"m","f":5.0,"m":420},{"s":"m","f":5.2,"m":280},{"s":"m","f":5.4,"m":500},{"s":"m","f":5.6,"m":340},{"s":"m","f":5.75,"m":720},{"s":"m","f":5.8,"m":170},{"s":"m","f":5.9,"m":420},{"s":"m","f":6.1,"m":800},{"s":"m","f":6.3,"m":450},{"s":"m","f":6.6,"m":1000},{"s":"m","f":6.9,"m":550},{"s":"m","f":7.2,"m":1300},{"s":"m","f":7.5,"m":700},{"s":"m","f":7.8,"m":1700},{"s":"m","f":8.1,"m":900},{"s":"m","f":8.4,"m":2300},{"s":"m","f":8.8,"m":1200},{"s":"m","f":9.0,"m":3500},{"s":"m","f":9.3,"m":1600},{"s":"m","f":9.6,"m":4700},{"s":"m","f":9.9,"m":2200},{"s":"m","f":10.3,"m":9800},{"s":"m","f":10.5,"m":2500},{"s":"m","f":10.8,"m":4500},{"s":"m","f":11.1,"m":1500},{"s":"m","f":11.5,"m":3200},{"s":"m","f":11.9,"m":900},{"s":"m","f":12.3,"m":2800},{"s":"m","f":12.7,"m":700},{"s":"m","f":13.1,"m":2200},{"s":"m","f":13.5,"m":500},{"s":"m","f":13.9,"m":2000},{"s":"m","f":14.3,"m":600},{"s":"m","f":14.7,"m":2500},{"s":"m","f":15.2,"m":800},{"s":"m","f":15.7,"m":3000},{"s":"m","f":16.2,"m":900},{"s":"m","f":16.7,"m":4000},{"s":"m","f":17.2,"m":1100},{"s":"m","f":17.7,"m":5000},{"s":"m","f":18.2,"m":1500},{"s":"m","f":18.7,"m":7000},{"s":"m","f":19.2,"m":9800},{"s":"m","f":19.6,"m":2000},{"s":"m","f":20.0,"m":8000},{"s":"m","f":20.5,"m":1000},{"s":"m","f":21.0,"m":4300},{"s":"m","f":21.3,"m":720},{"s":"m","f":21.6,"m":185},{"s":"m","f":22.9,"m":180},
{"s":"t","f":0.01,"m":0.74},{"s":"t","f":0.0179,"m":3.0},{"s":"t","f":0.0293,"m":12},{"s":"t","f":0.04,"m":22},{"s":"t","f":0.051,"m":38},{"s":"t","f":0.069,"m":80},{"s":"t","f":0.09,"m":125},{"s":"t","f":0.113,"m":177},{"s":"t","f":0.15,"m":218},{"s":"t","f":0.2,"m":230},{"s":"t","f":0.3,"m":228},{"s":"t","f":0.6,"m":222},{"s":"t","f":1.0,"m":218},{"s":"t","f":3.0,"m":215},{"s":"t","f":22,"m":214}
],
"ins1": [
{"s":"m","f":0.1,"m":280},{"s":"m","f":0.11,"m":300},{"s":"m","f":0.14,"m":285},{"s":"m","f":0.18,"m":240},{"s":"m","f":0.22,"m":212},{"s":"m","f":0.28,"m":200},{"s":"m","f":0.35,"m":207},{"s":"m","f":0.45,"m":214},{"s":"m","f":0.52,"m":217},{"s":"m","f":0.6,"m":208},{"s":"m","f":0.7,"m":200},{"s":"m","f":0.8,"m":195},{"s":"m","f":0.94,"m":192},{"s":"m","f":1.1,"m":191},{"s":"m","f":1.25,"m":190},{"s":"m","f":1.4,"m":186},{"s":"m","f":1.56,"m":182},{"s":"m","f":1.7,"m":183},{"s":"m","f":1.87,"m":193},{"s":"m","f":2.0,"m":195},{"s":"m","f":2.1,"m":200},{"s":"m","f":2.25,"m":210},{"s":"m","f":2.42,"m":179},{"s":"m","f":2.56,"m":203},{"s":"m","f":2.72,"m":192},{"s":"m","f":2.88,"m":200},{"s":"m","f":3.02,"m":229},{"s":"m","f":3.14,"m":200},{"s":"m","f":3.33,"m":208},{"s":"m","f":3.5,"m":214},{"s":"m","f":3.64,"m":218},{"s":"m","f":3.8,"m":220},{"s":"m","f":3.95,"m":221},{"s":"m","f":4.14,"m":223},{"s":"m","f":4.34,"m":212},{"s":"m","f":4.45,"m":233},{"s":"m","f":4.57,"m":250},{"s":"m","f":4.64,"m":400},{"s":"m","f":4.72,"m":550},{"s":"m","f":4.81,"m":550},{"s":"m","f":4.87,"m":400},{"s":"m","f":4.94,"m":292},{"s":"m","f":5.0,"m":254},
{"s":"t","f":0.1,"m":110},{"s":"t","f":0.13,"m":190},{"s":"t","f":0.17,"m":222},{"s":"t","f":0.22,"m":220},{"s":"t","f":0.3,"m":212},{"s":"t","f":0.45,"m":209},{"s":"t","f":0.7,"m":208},{"s":"t","f":5.0,"m":208}
],
"ins2": [
{"s":"m","f":0.1,"m":152},{"s":"m","f":0.12,"m":205},{"s":"m","f":0.17,"m":204},{"s":"m","f":0.27,"m":199},{"s":"m","f":0.36,"m":204},{"s":"m","f":0.48,"m":193},{"s":"m","f":0.59,"m":199},{"s":"m","f":0.71,"m":193},{"s":"m","f":0.82,"m":190},{"s":"m","f":0.94,"m":185},{"s":"m","f":1.05,"m":188},{"s":"m","f":1.17,"m":180},{"s":"m","f":1.28,"m":197},{"s":"m","f":1.34,"m":204},{"s":"m","f":1.4,"m":188},{"s":"m","f":1.48,"m":197},{"s":"m","f":1.56,"m":199},{"s":"m","f":1.66,"m":216},{"s":"m","f":1.75,"m":193},{"s":"m","f":1.82,"m":185},{"s":"m","f":1.92,"m":210},{"s":"m","f":2.02,"m":201},{"s":"m","f":2.13,"m":213},{"s":"m","f":2.25,"m":207},{"s":"m","f":2.36,"m":232},{"s":"m","f":2.44,"m":207},{"s":"m","f":2.52,"m":221},{"s":"m","f":2.63,"m":204},{"s":"m","f":2.74,"m":226},{"s":"m","f":2.82,"m":204},{"s":"m","f":3.02,"m":273},{"s":"m","f":3.17,"m":218},{"s":"m","f":3.27,"m":246},{"s":"m","f":3.36,"m":216},{"s":"m","f":3.46,"m":303},{"s":"m","f":3.55,"m":262},{"s":"m","f":3.63,"m":270},{"s":"m","f":3.71,"m":248},{"s":"m","f":3.78,"m":289},{"s":"m","f":3.9,"m":197},{"s":"m","f":3.97,"m":246},{"s":"m","f":4.07,"m":292},{"s":"m","f":4.16,"m":251},{"s":"m","f":4.28,"m":284},{"s":"m","f":4.35,"m":317},{"s":"m","f":4.47,"m":267},{"s":"m","f":4.58,"m":218},{"s":"m","f":4.66,"m":312},{"s":"m","f":4.74,"m":374},{"s":"m","f":4.81,"m":307},{"s":"m","f":4.89,"m":289},{"s":"m","f":4.95,"m":344},{"s":"m","f":5.0,"m":330},
{"s":"t","f":0.1,"m":195},{"s":"t","f":0.15,"m":225},{"s":"t","f":0.21,"m":232},{"s":"t","f":0.3,"m":225},{"s":"t","f":0.45,"m":218},{"s":"t","f":0.65,"m":214},{"s":"t","f":0.9,"m":212},{"s":"t","f":5.0,"m":212}
]
},
"spacing": 18,
"vconcat": [
{"bounds": "flush", "spacing": 53.8, "vconcat": [
 {"title": {"text": "28-06-96 04:29", "offset": 12},
  "width": 909, "height": 143,
  "resolve": {"axis": {"x": "independent", "y": "independent"}},
  "layer": [
   {"data": {"name": "ts1"}, "mark": {"type": "line", "clip": true},
    "encoding": {
     "x": {"field": "t", "type": "quantitative", "scale": {"domain": [0, 106.1], "nice": false, "zero": false}, "axis": {"orient": "bottom", "values": [0,10,20,30,40,50,60,70,80,90,100], "title": "time, s", "labelPadding": 12, "titlePadding": 4}},
     "y": {"field": "w", "type": "quantitative", "scale": {"domain": [-85, 387], "nice": false, "zero": false}, "axis": {"orient": "left", "values": [0,100,200,300], "title": null, "labelPadding": 12.7}}}},
   {"data": {"name": "ts1"}, "mark": {"type": "line", "clip": true},
    "encoding": {"x": {"field": "t", "type": "quantitative", "axis": null}, "y": {"field": "s", "type": "quantitative", "axis": null}}},
   {"data": {"values": [{}]}, "mark": {"type": "text", "align": "left", "baseline": "alphabetic"},
    "encoding": {"x": {"datum": 1.2, "axis": {"orient": "top", "values": [0,10,20,30,40,50,60,70,80,90,100], "labels": false, "title": null}}, "y": {"datum": 288, "axis": {"orient": "right", "values": [0,100,200,300], "labels": false, "title": null}}, "text": {"value": "Wie"}}},
   {"data": {"values": [{}]}, "mark": {"type": "text", "align": "left", "baseline": "alphabetic"},
    "encoding": {"x": {"datum": 1.13, "axis": null}, "y": {"datum": 19.7, "axis": null}, "text": {"value": "Spr rms=4.889um/s"}}}
  ]},
 {"bounds": "flush", "spacing": 49, "hconcat": [
  {"width": 431, "height": 432,
   "resolve": {"axis": {"x": "independent", "y": "independent"}},
   "layer": [
    {"data": {"name": "sp1"}, "mark": {"type": "line", "clip": true},
     "encoding": {
      "x": {"field": "f", "type": "quantitative", "scale": {"type": "log", "domain": [0.00711, 28.4], "nice": false}, "axis": {"orient": "bottom", "values": [0.01,0.1,1,10], "labelExpr": "datum.value == 0.01 ? '10⁻²' : datum.value == 1 ? '10⁰' : ''", "title": "frequency, Hz", "labelPadding": 23, "titlePadding": 1}},
      "y": {"field": "a", "type": "quantitative", "scale": {"type": "log", "domain": [0.000111, 1004], "nice": false}, "axis": {"orient": "left", "values": [0.001,0.01,0.1,1,10,100], "labelExpr": "datum.value == 0.01 ? '10⁻²' : datum.value == 1 ? '10⁰' : datum.value == 100 ? '10²' : ''", "title": null, "labelPadding": 19.5}},
      "detail": {"field": "s"}}},
    {"data": {"values": [{}]}, "mark": {"type": "text", "align": "left", "baseline": "alphabetic", "lineHeight": 18.5},
     "encoding": {"x": {"datum": 0.0112, "axis": {"orient": "top", "values": [0.01,0.1,1,10], "labels": false, "title": null}}, "y": {"datum": 345, "axis": {"orient": "right", "values": [0.001,0.01,0.1,1,10,100], "labels": false, "title": null}}, "text": {"value": ["Smoothed velocity", "amplitude spectra"]}}},
    {"data": {"values": [{}]}, "mark": {"type": "text", "align": "left", "baseline": "alphabetic"},
     "encoding": {"x": {"datum": 0.0112, "axis": null}, "y": {"datum": 12.3, "axis": null}, "text": {"value": "Wie.*100"}}},
    {"data": {"values": [{}]}, "mark": {"type": "text", "align": "left", "baseline": "alphabetic"},
     "encoding": {"x": {"datum": 0.0112, "axis": null}, "y": {"datum": 0.0532, "axis": null}, "text": {"value": "Spr."}}}
   ]},
  {"width": 429, "height": 432,
   "resolve": {"scale": {"x": "independent", "y": "independent"}, "axis": {"x": "independent", "y": "independent"}},
   "layer": [
    {"data": {"name": "mag1"}, "mark": {"type": "line", "clip": true},
     "encoding": {
      "x": {"field": "f", "type": "quantitative", "scale": {"type": "log", "domain": [0.00994, 27.7], "nice": false}, "axis": {"orient": "bottom", "values": [0.01,0.1,1,10], "labelExpr": "datum.value == 0.01 ? '10⁻²' : datum.value == 0.1 ? '10⁻¹' : datum.value == 1 ? '10⁰' : '10¹'", "title": "frequency, Hz", "labelPadding": 23, "titlePadding": 1}},
      "y": {"field": "m", "type": "quantitative", "scale": {"type": "log", "domain": [0.721, 10350], "nice": false}, "axis": {"orient": "left", "values": [1,10,100,1000,10000], "labelExpr": "datum.value == 1 ? '10⁰' : datum.value == 10 ? '10¹' : datum.value == 100 ? '10²' : datum.value == 1000 ? '10³' : '10⁴'", "title": null, "labelPadding": 27}},
      "detail": {"field": "s"}}},
    {"data": {"values": [{}]}, "mark": {"type": "text", "align": "left", "baseline": "alphabetic", "lineHeight": 24.5},
     "encoding": {"x": {"datum": 0.0144, "scale": {"type": "log", "domain": [0.00994, 27.7], "nice": false}, "axis": {"orient": "top", "values": [0.01,0.1,1,10], "labels": false, "title": null}}, "y": {"datum": 5330, "scale": {"type": "log", "domain": [0.721, 10350], "nice": false}, "axis": {"orient": "right", "values": [1,10,100,1000,10000], "labels": false, "title": null}},
      "text": {"value": ["Wiechert magnification", ".1-.2\u00a0\u00a0.2-1.\u00a0\u00a0\u00a01.-2.\u00a0\u00a02.-3.\u00a0\u00a0\u00a03.-5.", "\u00a0293\u00a0\u00a0\u00a0\u00a0209\u00a0\u00a0\u00a0193\u00a0\u00a0\u00a0\u00a0200\u00a0\u00a0\u00a0249"]}}},
    {"data": {"values": [{}]}, "mark": {"type": "rect", "fillOpacity": 0, "stroke": "#333", "strokeWidth": 1.2},
     "encoding": {
      "x": {"datum": 0.1, "scale": {"domain": [0.1, 5], "range": [192, 403.7], "nice": false, "zero": false}, "axis": {"orient": "bottom", "offset": -34.8, "values": [1,2,3,4], "tickSize": -5, "labelPadding": 13.4, "title": null}},
      "x2": {"datum": 5},
      "y": {"datum": 100, "scale": {"domain": [100, 550], "range": [397.2, 217.2], "nice": false, "zero": false}, "axis": {"orient": "left", "offset": -192, "values": [100,200,300,400,500], "tickSize": -5, "labelPadding": 20, "title": null}},
      "y2": {"datum": 550}}},
    {"data": {"name": "ins1"}, "mark": {"type": "line"},
     "encoding": {"x": {"field": "f", "type": "quantitative", "scale": {"domain": [0.1, 5], "range": [192, 403.7], "nice": false, "zero": false}, "axis": null}, "y": {"field": "m", "type": "quantitative", "scale": {"domain": [100, 550], "range": [397.2, 217.2], "nice": false, "zero": false}, "axis": null}, "detail": {"field": "s"}}}
   ]}
 ]}
]},
{"bounds": "flush", "spacing": 52, "vconcat": [
 {"title": {"text": "05-08-96 22:47", "offset": 12},
  "width": 909, "height": 143,
  "resolve": {"axis": {"x": "independent", "y": "independent"}},
  "layer": [
   {"data": {"name": "ts2"}, "mark": {"type": "line", "clip": true},
    "encoding": {
     "x": {"field": "t", "type": "quantitative", "scale": {"domain": [0, 324.6], "nice": false, "zero": false}, "axis": {"orient": "bottom", "values": [0,50,100,150,200,250,300], "title": "time, s", "labelPadding": 12, "titlePadding": 4}},
     "y": {"field": "w", "type": "quantitative", "scale": {"domain": [-50, 183], "nice": false, "zero": false}, "axis": {"orient": "left", "values": [-50,0,50,100,150], "title": null, "labelPadding": 12.7}}}},
   {"data": {"name": "ts2"}, "mark": {"type": "line", "clip": true},
    "encoding": {"x": {"field": "t", "type": "quantitative", "axis": null}, "y": {"field": "s", "type": "quantitative", "axis": null}}},
   {"data": {"values": [{}]}, "mark": {"type": "text", "align": "left", "baseline": "alphabetic"},
    "encoding": {"x": {"datum": 4.3, "axis": {"orient": "top", "values": [0,50,100,150,200,250,300], "labels": false, "title": null}}, "y": {"datum": 139.5, "axis": {"orient": "right", "values": [-50,0,50,100,150], "labels": false, "title": null}}, "text": {"value": "Wie"}}},
   {"data": {"values": [{}]}, "mark": {"type": "text", "align": "left", "baseline": "alphabetic"},
    "encoding": {"x": {"datum": 4.3, "axis": null}, "y": {"datum": 21.2, "axis": null}, "text": {"value": "Spr rms=13.57um/s"}}}
  ]},
 {"bounds": "flush", "spacing": 49, "hconcat": [
  {"width": 431, "height": 432,
   "resolve": {"axis": {"x": "independent", "y": "independent"}},
   "layer": [
    {"data": {"name": "sp2"}, "mark": {"type": "line", "clip": true},
     "encoding": {
      "x": {"field": "f", "type": "quantitative", "scale": {"type": "log", "domain": [0.00218, 28.5], "nice": false}, "axis": {"orient": "bottom", "values": [0.01,0.1,1,10], "labelExpr": "datum.value == 0.01 ? '10⁻²' : datum.value == 1 ? '10⁰' : ''", "title": "frequency, Hz", "labelPadding": 23, "titlePadding": 1}},
      "y": {"field": "a", "type": "quantitative", "scale": {"type": "log", "domain": [0.001374, 3524], "nice": false}, "axis": {"orient": "left", "values": [0.01,0.1,1,10,100,1000], "labelExpr": "datum.value == 0.01 ? '10⁻²' : datum.value == 1 ? '10⁰' : datum.value == 100 ? '10²' : ''", "title": null, "labelPadding": 19.5}},
      "detail": {"field": "s"}}},
    {"data": {"values": [{}]}, "mark": {"type": "text", "align": "left", "baseline": "alphabetic", "lineHeight": 18.5},
     "encoding": {"x": {"datum": 0.00366, "axis": {"orient": "top", "values": [0.01,0.1,1,10], "labels": false, "title": null}}, "y": {"datum": 1297, "axis": {"orient": "right", "values": [0.01,0.1,1,10,100,1000], "labels": false, "title": null}}, "text": {"value": ["Smoothed velocity", "amplitude spectra"]}}},
    {"data": {"values": [{}]}, "mark": {"type": "text", "align": "left", "baseline": "alphabetic"},
     "encoding": {"x": {"datum": 0.00366, "axis": null}, "y": {"datum": 18.1, "axis": null}, "text": {"value": "Wie.*100"}}},
    {"data": {"values": [{}]}, "mark": {"type": "text", "align": "left", "baseline": "alphabetic"},
     "encoding": {"x": {"datum": 0.00366, "axis": null}, "y": {"datum": 0.208, "axis": null}, "text": {"value": "Spr."}}}
   ]},
  {"width": 429, "height": 432,
   "resolve": {"scale": {"x": "independent", "y": "independent"}, "axis": {"x": "independent", "y": "independent"}},
   "layer": [
    {"data": {"name": "mag2"}, "mark": {"type": "line", "clip": true},
     "encoding": {
      "x": {"field": "f", "type": "quantitative", "scale": {"type": "log", "domain": [0.00964, 26.1], "nice": false}, "axis": {"orient": "bottom", "values": [0.01,0.1,1,10], "labelExpr": "datum.value == 0.01 ? '10⁻²' : datum.value == 0.1 ? '10⁻¹' : datum.value == 1 ? '10⁰' : '10¹'", "title": "frequency, Hz", "labelPadding": 23, "titlePadding": 1}},
      "y": {"field": "m", "type": "quantitative", "scale": {"type": "log", "domain": [0.713, 9780], "nice": false}, "axis": {"orient": "left", "values": [1,10,100,1000], "labelExpr": "datum.value == 1 ? '10⁰' : datum.value == 10 ? '10¹' : datum.value == 100 ? '10²' : '10³'", "title": null, "labelPadding": 27}},
      "detail": {"field": "s"}}},
    {"data": {"values": [{}]}, "mark": {"type": "text", "align": "left", "baseline": "alphabetic", "lineHeight": 24.5},
     "encoding": {"x": {"datum": 0.01472, "scale": {"type": "log", "domain": [0.00964, 26.1], "nice": false}, "axis": {"orient": "top", "values": [0.01,0.1,1,10], "labels": false, "title": null}}, "y": {"datum": 4955, "scale": {"type": "log", "domain": [0.713, 9780], "nice": false}, "axis": {"orient": "right", "values": [1,10,100,1000], "labels": false, "title": null}},
      "text": {"value": ["Wiechert magnification", ".1-.2\u00a0\u00a0.2-1.\u00a0\u00a0\u00a01.-2.\u00a0\u00a02.-3.\u00a0\u00a0\u00a03.-5.", "\u00a0164\u00a0\u00a0\u00a0\u00a0194\u00a0\u00a0\u00a0193\u00a0\u00a0\u00a0\u00a0210\u00a0\u00a0\u00a0260"]}}},
    {"data": {"values": [{}]}, "mark": {"type": "rect", "fillOpacity": 0, "stroke": "#333", "strokeWidth": 1.2},
     "encoding": {
      "x": {"datum": 0.1, "scale": {"domain": [0.1, 5], "range": [193.7, 405.3], "nice": false, "zero": false}, "axis": {"orient": "bottom", "offset": -33.7, "values": [1,2,3,4], "tickSize": -5, "labelPadding": 13.4, "title": null}},
      "x2": {"datum": 5},
      "y": {"datum": 100, "scale": {"domain": [100, 395], "range": [398.3, 218.3], "nice": false, "zero": false}, "axis": {"orient": "left", "offset": -193.7, "values": [100,200,300], "tickSize": -5, "labelPadding": 20, "title": null}},
      "y2": {"datum": 395}}},
    {"data": {"name": "ins2"}, "mark": {"type": "line"},
     "encoding": {"x": {"field": "f", "type": "quantitative", "scale": {"domain": [0.1, 5], "range": [193.7, 405.3], "nice": false, "zero": false}, "axis": null}, "y": {"field": "m", "type": "quantitative", "scale": {"domain": [100, 395], "range": [398.3, 218.3], "nice": false, "zero": false}, "axis": null}, "detail": {"field": "s"}}}
   ]}
 ]}
]}
]
}
